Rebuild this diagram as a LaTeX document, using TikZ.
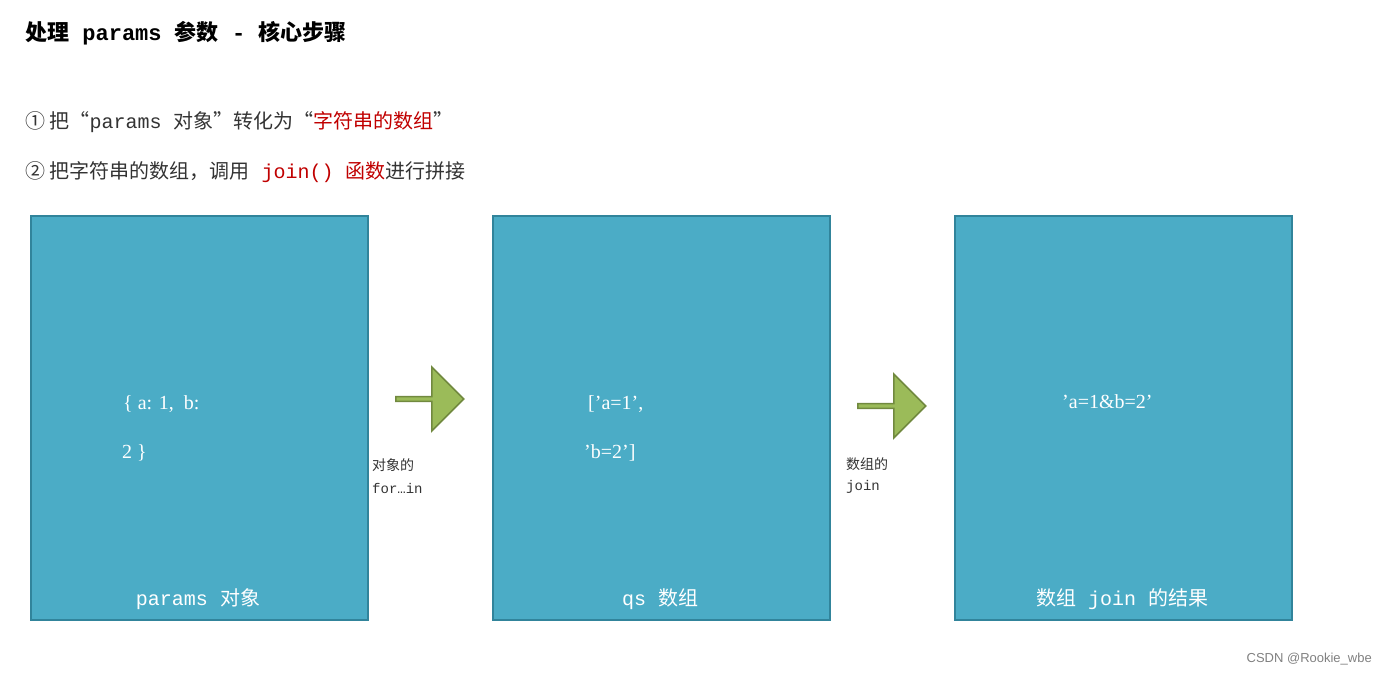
\documentclass[tikz,border=0pt]{standalone}
\usepackage{fontspec}
\setmainfont{Liberation Mono}
\newfontfamily\cjk{Noto Sans CJK SC}
\newfontfamily\serifm{Liberation Serif}
\newfontfamily\sansm{Liberation Sans}
\usetikzlibrary{shapes.arrows}
\definecolor{boxfill}{HTML}{4BACC6}
\definecolor{boxline}{HTML}{31849B}
\definecolor{arrfill}{HTML}{9BBB59}
\definecolor{arrline}{HTML}{71893F}
\definecolor{redt}{HTML}{C00000}
\definecolor{txt}{HTML}{333333}
\tikzset{
 bx/.style={draw=boxline,line width=2pt,fill=boxfill,minimum width=337pt,minimum height=404pt,anchor=north west,inner sep=0},
 garrow/.style={single arrow,draw=arrline,line width=1.5pt,fill=arrfill,minimum height=68pt,single arrow head extend=9pt,minimum width=64pt,inner sep=0,single arrow tip angle=90,anchor=west},
 wt/.style={text=white,font=\serifm\fontsize{20pt}{24pt}\selectfont,anchor=west,inner sep=0},
 boxcap/.style={text=white,font=\fontsize{20pt}{24pt}\selectfont,inner sep=0},
 sm/.style={text=txt,font=\fontsize{14pt}{16pt}\selectfont,anchor=west,inner sep=0},
 ln/.style={text=txt,font=\fontsize{20pt}{24pt}\selectfont,anchor=west,inner sep=0}
}
\begin{document}
\begin{tikzpicture}[x=1pt,y=-1pt]
\useasboundingbox (0,0) rectangle (1387,675);
\node[anchor=west,inner sep=0,text=black,font=\bfseries\fontsize{22pt}{26pt}\selectfont] (title) at (25,33) {{\cjk\bfseries 处理} params {\cjk\bfseries 参数} - {\cjk\bfseries 核心步骤}};
\node[ln] (l1) at (25,122) {{\cjk ① 把“}params {\cjk 对象”转化为“}{\cjk\color{redt}字符串的数组}{\cjk ”}};
\node[ln] (l2) at (25,172) {{\cjk ② 把字符串的数组，调用} {\color{redt}join() {\cjk 函数}}{\cjk 进行拼接}};
\node[bx] (b1) at (30,215) {};
\node[bx] (b2) at (492,215) {};
\node[bx] (b3) at (954,215) {};
\node[garrow] (a1) at (395,399) {};
\node[garrow] (a2) at (857,406) {};
\node[wt] (t1a) at (123,404) {\{ a: 1,\ \ b:};
\node[wt] (t1b) at (122,453) {2 \}};
\node[wt] (t2a) at (588,404) {[’a=1’,};
\node[wt] (t2b) at (584,453) {’b=2’]};
\node[wt] (t3a) at (1062,402) {’a=1\&b=2’};
\node[boxcap] (c1) at (198,599) {params {\cjk 对象}};
\node[boxcap] (c2) at (660,599) {qs {\cjk 数组}};
\node[boxcap] (c3) at (1122,599) {{\cjk 数组} join {\cjk 的结果}};
\node[sm] (s1a) at (372,465) {\cjk 对象的};
\node[sm] (s1b) at (372,488) {for…in};
\node[sm] (s2a) at (846,464) {\cjk 数组的};
\node[sm] (s2b) at (846,487) {join};
\node[anchor=east,inner sep=0,text=gray,font=\sansm\fontsize{13pt}{15pt}\selectfont] (wm) at (1372,659) {CSDN @Rookie\_wbe};
\end{tikzpicture}
\end{document}
